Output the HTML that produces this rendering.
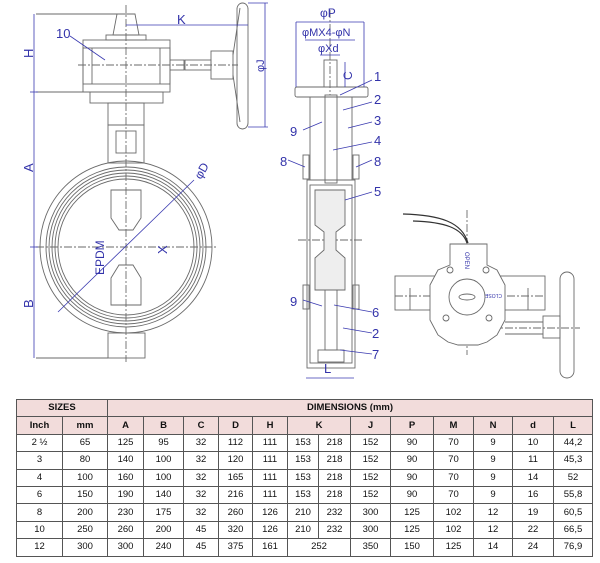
<!DOCTYPE html>
<html><head><meta charset="utf-8"><style>
html,body{margin:0;padding:0;background:#fff;width:600px;height:563px;overflow:hidden}
svg{position:absolute;left:0;top:0}
table{position:absolute;left:16px;top:399px;border-collapse:collapse;font-family:"Liberation Sans",sans-serif;font-size:9.5px;color:#111}
td{border:1px solid #555;text-align:center;padding:0;height:16.4px;line-height:16px}
tr.h td{background:#f2dcdb;font-weight:bold}
</style></head><body>
<svg width="600" height="400" viewBox="0 0 600 400" font-family="Liberation Sans, sans-serif">
<g stroke="#6a6a6a" stroke-width="0.9" fill="none">
<line x1="126" y1="5" x2="126" y2="362" stroke-dasharray="8,2,2,2"/>
<line x1="36" y1="247" x2="218" y2="247" stroke-dasharray="8,2,2,2"/>
<path d="M117,14 L135,14 L139,35 L113,35 Z"/>
<rect x="106" y="35" width="40" height="5"/>
<rect x="83" y="40" width="87" height="52"/>
<rect x="83" y="48" width="87" height="36"/>
<line x1="92" y1="48" x2="92" y2="84"/><line x1="160" y1="48" x2="160" y2="84"/>
<rect x="90" y="92" width="73" height="11"/>
<rect x="108" y="103" width="36" height="22"/>
<rect x="108" y="125" width="36" height="38"/>
<rect x="116" y="131" width="20" height="22"/>
<line x1="78" y1="65" x2="238" y2="65" stroke-dasharray="8,2,2,2"/>
<rect x="170" y="60" width="14" height="10"/><rect x="185" y="60" width="26" height="10"/>
<rect x="211" y="51" width="22" height="28"/>
<path d="M233,55 L240,8 M233,75 L240,122"/>
<rect x="237" y="3" width="11" height="126" rx="6"/>
<circle cx="126" cy="247" r="86"/>
<circle cx="126" cy="247" r="80"/>
<circle cx="126" cy="247" r="77"/>
<circle cx="126" cy="247" r="74"/>
<circle cx="126" cy="247" r="71"/>
<circle cx="126" cy="247" r="68"/>
<path d="M111,190 L111,218 L119,230 L133,230 L141,218 L141,190 Z"/>
<path d="M111,305 L111,278 L119,265 L133,265 L141,278 L141,305 Z"/>
<rect x="108" y="333" width="37" height="25"/>
<line x1="36" y1="92" x2="90" y2="92"/><line x1="36" y1="358" x2="108" y2="358"/>
<line x1="36" y1="14" x2="117" y2="14"/>
<line x1="330" y1="10" x2="330" y2="95" stroke-dasharray="8,2,2,2"/>
<line x1="298" y1="240" x2="362" y2="240" stroke-dasharray="8,2,2,2"/>
<rect x="295" y="87" width="73" height="10" rx="2"/>
<rect x="310" y="97" width="42" height="83"/>
<rect x="307" y="180" width="48" height="188"/>
<rect x="310" y="185" width="42" height="178"/>
<rect x="324" y="60" width="13" height="27"/>
<rect x="325" y="95" width="12" height="88"/>
<path d="M315,190 L345,190 L345,225 L336,232 L336,250 L345,258 L345,290 L315,290 L315,258 L324,250 L324,232 L315,225 Z" fill="#eee"/>
<rect x="325" y="290" width="12" height="60"/>
<rect x="318" y="350" width="26" height="12"/>
<rect x="303" y="155" width="6" height="24"/><rect x="353" y="155" width="6" height="24"/>
<rect x="303" y="285" width="6" height="24"/><rect x="353" y="285" width="6" height="24"/>
<line x1="395" y1="296" x2="545" y2="296" stroke-dasharray="8,2,2,2"/>
<line x1="435" y1="328" x2="580" y2="328" stroke-dasharray="8,2,2,2"/>
<line x1="467" y1="210" x2="467" y2="355" stroke-dasharray="8,2,2,2"/>
<rect x="395" y="276" width="150" height="34"/>
<line x1="410" y1="288" x2="410" y2="310"/><line x1="528" y1="288" x2="528" y2="310"/>
<path d="M450,265 L450,244 L487,244 L487,265 L497,270 L505,285 L505,320 L497,335 L487,342 L478,345 L458,345 L448,342 L438,335 L430,320 L430,285 L438,270 Z" fill="#fff"/>
<circle cx="467" cy="297" r="18" fill="#fff"/>
<ellipse cx="467" cy="297" rx="8" ry="3"/>
<circle cx="450" cy="270" r="3"/><circle cx="486" cy="270" r="3"/>
<circle cx="446" cy="318" r="3"/><circle cx="489" cy="318" r="3"/>
<rect x="543" y="316" width="17" height="22"/>
<rect x="560" y="272" width="14" height="106" rx="7"/>
<path d="M505,322 L543,322 M505,334 L543,334"/>
</g>
<path d="M403,214 C440,215 462,222 468,243 M413,221 C445,222 462,228 467,243" stroke="#333" stroke-width="1.2" fill="none"/>
<g stroke="#3a3ab0" stroke-width="0.8" fill="none">
<line x1="34" y1="14" x2="34" y2="358"/>
<line x1="30" y1="92" x2="38" y2="92"/><line x1="30" y1="247" x2="38" y2="247"/>
<line x1="126" y1="25" x2="248" y2="25"/>
<line x1="265" y1="3" x2="265" y2="127"/>
<line x1="248" y1="3" x2="268" y2="3"/><line x1="248" y1="127" x2="268" y2="127"/>
<line x1="58" y1="312" x2="194" y2="180"/>
<line x1="70" y1="36" x2="105" y2="60"/>
<line x1="296" y1="22" x2="364" y2="22"/>
<line x1="305" y1="40" x2="355" y2="40"/>
<line x1="320" y1="55" x2="340" y2="55"/>
<line x1="296" y1="22" x2="296" y2="87"/><line x1="364" y1="22" x2="364" y2="87"/>
<line x1="345" y1="62" x2="345" y2="87"/>
<line x1="306" y1="378" x2="354" y2="378"/>
<path d="M303,130 L322,122 M288,160 L305,167 M372,160 L356,167 M372,80 L340,95 M372,102 L343,110 M372,122 L348,128 M372,142 L333,150 M372,192 L345,200 M303,300 L322,306 M372,312 L334,305 M372,333 L343,328 M372,354 L340,350"/>
</g>
<g fill="#3333aa" font-size="13">
<text x="56" y="38">10</text>
<text x="177" y="24">K</text>
<text transform="translate(33,58) rotate(-90)">H</text>
<text transform="translate(33,172) rotate(-90)">A</text>
<text transform="translate(33,308) rotate(-90)">B</text>
<text transform="translate(264,72) rotate(-90)" font-size="11">φJ</text>
<text transform="translate(201,180) rotate(-60)" font-size="12">φD</text>
<text transform="translate(104,275) rotate(-90)" font-size="12">EPDM</text>
<text transform="translate(167,254) rotate(-90)">X</text>
<text x="320" y="17" font-size="12">φP</text>
<text x="302" y="36" font-size="11">φMX4-φN</text>
<text x="318" y="52" font-size="11">φXd</text>
<text transform="translate(352,80) rotate(-90)" font-size="12">C</text>
<text x="374" y="81">1</text><text x="374" y="104">2</text><text x="374" y="125">3</text><text x="374" y="145">4</text>
<text x="374" y="166">8</text><text x="280" y="166">8</text><text x="374" y="196">5</text>
<text x="290" y="136">9</text><text x="290" y="306">9</text>
<text x="372" y="317">6</text><text x="372" y="338">2</text><text x="372" y="359">7</text>
<text x="324" y="373">L</text>
<text transform="translate(465,252) rotate(90)" font-size="6">OPEN</text>
<text transform="translate(502,294) rotate(180)" font-size="5">CLOSE</text>
</g>
</svg>
<table>
<colgroup><col style="width:46px"><col style="width:45px"><col style="width:36px"><col style="width:40px"><col style="width:35px"><col style="width:34px"><col style="width:35px"><col style="width:31px"><col style="width:32px"><col style="width:40px"><col style="width:43px"><col style="width:40px"><col style="width:39px"><col style="width:41px"><col style="width:39px"></colgroup>
<tr class="h"><td colspan="2">SIZES</td><td colspan="13">DIMENSIONS (mm)</td></tr>
<tr class="h"><td>Inch</td><td>mm</td><td>A</td><td>B</td><td>C</td><td>D</td><td>H</td><td colspan="2">K</td><td>J</td><td>P</td><td>M</td><td>N</td><td>d</td><td>L</td></tr>
<tr><td>2 ½</td><td>65</td><td>125</td><td>95</td><td>32</td><td>112</td><td>111</td><td>153</td><td>218</td><td>152</td><td>90</td><td>70</td><td>9</td><td>10</td><td>44,2</td></tr>
<tr><td>3</td><td>80</td><td>140</td><td>100</td><td>32</td><td>120</td><td>111</td><td>153</td><td>218</td><td>152</td><td>90</td><td>70</td><td>9</td><td>11</td><td>45,3</td></tr>
<tr><td>4</td><td>100</td><td>160</td><td>100</td><td>32</td><td>165</td><td>111</td><td>153</td><td>218</td><td>152</td><td>90</td><td>70</td><td>9</td><td>14</td><td>52</td></tr>
<tr><td>6</td><td>150</td><td>190</td><td>140</td><td>32</td><td>216</td><td>111</td><td>153</td><td>218</td><td>152</td><td>90</td><td>70</td><td>9</td><td>16</td><td>55,8</td></tr>
<tr><td>8</td><td>200</td><td>230</td><td>175</td><td>32</td><td>260</td><td>126</td><td>210</td><td>232</td><td>300</td><td>125</td><td>102</td><td>12</td><td>19</td><td>60,5</td></tr>
<tr><td>10</td><td>250</td><td>260</td><td>200</td><td>45</td><td>320</td><td>126</td><td>210</td><td>232</td><td>300</td><td>125</td><td>102</td><td>12</td><td>22</td><td>66,5</td></tr>
<tr><td>12</td><td>300</td><td>300</td><td>240</td><td>45</td><td>375</td><td>161</td><td colspan="2">252</td><td>350</td><td>150</td><td>125</td><td>14</td><td>24</td><td>76,9</td></tr>
</table>
</body></html>
